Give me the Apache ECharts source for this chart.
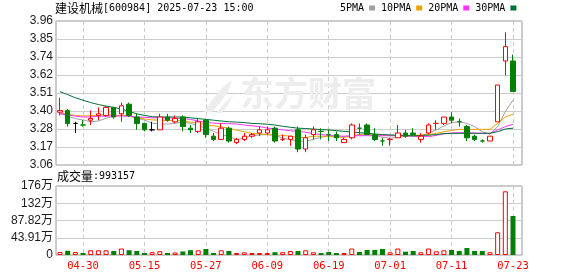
<!DOCTYPE html>
<html><head><meta charset="utf-8">
<script src="https://cdn.jsdelivr.net/npm/echarts@6/dist/echarts.min.js"></script>
<style>html,body{margin:0;padding:0;background:#fff}#c{width:578px;height:276px}</style>
</head><body><div id="c"></div>
<script>
const dates = ['04-25','04-28','04-29','04-30','05-06','05-07','05-08','05-09','05-12','05-13','05-14','05-15','05-16','05-19','05-20','05-21','05-22','05-23','05-26','05-27','05-28','05-29','05-30','06-03','06-04','06-05','06-06','06-09','06-10','06-11','06-12','06-13','06-16','06-17','06-18','06-19','06-20','06-23','06-24','06-25','06-26','06-27','06-30','07-01','07-02','07-03','07-04','07-07','07-08','07-09','07-10','07-11','07-14','07-15','07-16','07-17','07-18','07-21','07-22','07-23'];
const openP  = [3.39,3.40,3.32,3.31,3.34,3.37,3.37,3.42,3.38,3.44,3.36,3.32,3.28,3.28,3.36,3.33,3.36,3.29,3.27,3.34,3.24,3.22,3.29,3.20,3.22,3.24,3.26,3.26,3.29,3.22,3.22,3.28,3.16,3.25,3.27,3.25,3.25,3.20,3.23,3.29,3.31,3.25,3.21,3.22,3.23,3.26,3.26,3.22,3.26,3.32,3.32,3.36,3.33,3.30,3.24,3.21,3.21,3.33,3.71,3.71];
const closeP = [3.40,3.32,3.32,3.31,3.35,3.38,3.42,3.36,3.43,3.37,3.32,3.28,3.28,3.36,3.34,3.35,3.30,3.28,3.33,3.25,3.22,3.29,3.21,3.22,3.24,3.25,3.28,3.28,3.21,3.22,3.24,3.16,3.23,3.28,3.27,3.25,3.23,3.22,3.31,3.29,3.25,3.22,3.21,3.22,3.26,3.24,3.25,3.24,3.31,3.32,3.36,3.34,3.33,3.23,3.22,3.21,3.24,3.56,3.80,3.52];
const lowP   = [3.37,3.30,3.26,3.30,3.31,3.34,3.36,3.35,3.33,3.36,3.28,3.27,3.27,3.28,3.33,3.32,3.27,3.26,3.26,3.23,3.21,3.22,3.20,3.19,3.21,3.23,3.24,3.25,3.20,3.21,3.18,3.14,3.14,3.22,3.22,3.21,3.21,3.20,3.22,3.25,3.25,3.21,3.18,3.18,3.23,3.23,3.24,3.20,3.25,3.28,3.31,3.32,3.30,3.21,3.21,3.20,3.21,3.33,3.62,3.52];
const highP  = [3.48,3.41,3.33,3.34,3.40,3.42,3.43,3.42,3.45,3.45,3.38,3.32,3.33,3.38,3.38,3.37,3.37,3.31,3.35,3.35,3.26,3.32,3.30,3.23,3.26,3.26,3.30,3.30,3.30,3.25,3.24,3.30,3.25,3.30,3.29,3.28,3.27,3.23,3.32,3.32,3.32,3.29,3.23,3.23,3.31,3.28,3.29,3.26,3.32,3.34,3.36,3.39,3.35,3.31,3.25,3.22,3.24,3.56,3.89,3.75];
const volume = [76000,107000,76000,51000,120000,120000,120000,102000,165000,122000,102000,51000,71000,97000,51000,64000,89000,122000,120000,153000,51000,120000,102000,51000,69000,51000,51000,51000,71000,71000,102000,102000,120000,69000,51000,76000,51000,51000,165000,76000,127000,127000,153000,69000,165000,84000,102000,69000,165000,94000,120000,127000,102000,178000,102000,102000,69000,578000,1621000,993157];
const ma5  = [3.383,3.366,3.350,3.341,3.330,3.335,3.352,3.366,3.372,3.370,3.352,3.341,3.322,3.316,3.316,3.320,3.330,3.320,3.305,3.291,3.270,3.250,3.240,3.218,3.229,3.243,3.248,3.250,3.245,3.229,3.218,3.210,3.208,3.220,3.233,3.243,3.243,3.238,3.243,3.250,3.254,3.245,3.233,3.228,3.232,3.240,3.240,3.241,3.258,3.279,3.304,3.325,3.330,3.320,3.300,3.268,3.252,3.300,3.393,3.466];
const ma10 = [3.385,3.378,3.370,3.366,3.368,3.372,3.374,3.372,3.370,3.365,3.355,3.348,3.342,3.340,3.338,3.338,3.336,3.328,3.322,3.312,3.305,3.298,3.290,3.278,3.268,3.258,3.254,3.250,3.248,3.245,3.240,3.232,3.232,3.240,3.240,3.238,3.234,3.233,3.240,3.248,3.250,3.250,3.247,3.245,3.243,3.243,3.245,3.247,3.250,3.258,3.268,3.276,3.283,3.283,3.283,3.283,3.283,3.320,3.360,3.378];
const ma20 = [3.380,3.375,3.365,3.360,3.360,3.365,3.365,3.366,3.366,3.365,3.360,3.358,3.355,3.355,3.355,3.353,3.350,3.345,3.335,3.327,3.322,3.320,3.318,3.316,3.310,3.305,3.300,3.291,3.285,3.280,3.274,3.270,3.265,3.256,3.250,3.245,3.240,3.240,3.242,3.243,3.243,3.243,3.243,3.243,3.243,3.242,3.241,3.238,3.237,3.245,3.255,3.260,3.262,3.262,3.260,3.258,3.258,3.279,3.300,3.314];
const ma30 = [3.518,3.500,3.480,3.465,3.450,3.438,3.428,3.420,3.410,3.395,3.380,3.370,3.362,3.360,3.360,3.360,3.360,3.355,3.350,3.345,3.340,3.335,3.330,3.328,3.325,3.320,3.318,3.315,3.310,3.302,3.296,3.290,3.288,3.285,3.281,3.279,3.275,3.270,3.266,3.262,3.258,3.254,3.250,3.248,3.246,3.245,3.242,3.245,3.246,3.250,3.256,3.258,3.258,3.258,3.258,3.258,3.258,3.268,3.285,3.290];
const priceTickLabels = ['3.06','3.17','3.28','3.40','3.51','3.62','3.74','3.85','3.96'];
const volTickLabels = ['0','43.91万','87.82万','132万','176万'];
const shownDates = ['04-30','05-15','05-27','06-09','06-19','07-01','07-11','07-23'];
const priceMin = 3.06, priceMax = 3.96, volMax = 1756400;
const stockTitle = '建设机械';
const stockCode = '[600984] 2025-07-23 15:00';
const volTitle = '成交量';
const volLast = ':993157';
const maNames = ['5PMA','10PMA','20PMA','30PMA'];

const RED = '#ff0000', GREEN = '#008000', BLACK = '#000000';
function dir(i) {
  if (closeP[i] > openP[i]) return 1;
  if (closeP[i] < openP[i]) return -1;
  const prev = i > 0 ? closeP[i - 1] : closeP[i];
  return closeP[i] > prev ? 1 : (closeP[i] < prev ? -1 : 0);
}
function candleStyle(i) {
  const d = dir(i);
  if (d > 0) return {color:'#fff', color0:'#fff', borderColor:RED, borderColor0:RED};
  if (d < 0) return {color:GREEN, color0:GREEN, borderColor:GREEN, borderColor0:GREEN};
  return {color:BLACK, color0:BLACK, borderColor:BLACK, borderColor0:BLACK};
}
function volStyle(i) {
  const d = dir(i);
  if (d >= 0) return {color:'#fff', borderColor:RED, borderWidth:1};
  return {color:GREEN, borderColor:GREEN, borderWidth:0};
}
const showIdx = (idx) => shownDates.indexOf(dates[idx]) >= 0;

const chart = echarts.init(document.getElementById('c'), null, {renderer:'canvas'});
const mono = "'DejaVu Sans Mono','Liberation Mono',monospace";
const cjk = "'Noto Sans CJK SC',sans-serif";
const maColors = ['#a0a0a0','#f0a000','#ff33ff','#00703a'];
const maData = [ma5, ma10, ma20, ma30];
const richTitle = {a: {fontFamily: cjk, fontSize: 12, color:'#000', fontWeight: 'normal'}, b: {fontFamily: mono, fontSize: 10, color:'#000', fontWeight: 'normal'}};

const option = {
  animation: false,
  backgroundColor: '#fff',
  title: [
    {left: 55, top: 2, padding: 0, text: '{a|' + stockTitle + '}{b|' + stockCode + '}', textStyle: {fontWeight: 'normal', rich: richTitle}},
    {left: 57, top: 170, padding: 0, text: '{a|' + volTitle + '}{b|' + volLast + '}', textStyle: {fontWeight: 'normal', rich: richTitle}}
  ],
  legend: {
    data: maNames, left: 340, top: 3, padding: 0, icon: 'rect', itemWidth: 6, itemHeight: 5, itemGap: 6,
    align: 'right', selectedMode: false,
    textStyle: {fontFamily: mono, fontSize: 10, color: '#000', padding: [0,0,0,0]}
  },
  graphic: [
    {type: 'text', left: 240, top: 76, z: 1, silent: true,
     style: {text: '东方财富', fontFamily: cjk, fontSize: 34, fontWeight: 'bold', fill: '#ededed'}},
    {type: 'polygon', z: 1, silent: true,
     shape: {points: [[204,112],[212,100],[222,88],[232,80],[228,92],[220,103],[212,112]]},
     style: {fill: '#ededed'}},
    {type: 'polygon', z: 1, silent: true,
     shape: {points: [[216,113],[224,104],[234,94],[228,105],[222,113]]},
     style: {fill: '#ededed'}}
  ],
  grid: [
    {left: 56, right: 56, top: 21, height: 144, show: true, borderColor: '#999', borderWidth: 1},
    {left: 60, right: 65, top: 21, height: 144},
    {left: 56, right: 56, top: 186, height: 69, show: true, borderColor: '#999', borderWidth: 1},
    {left: 60, right: 65, top: 186, height: 69}
  ],
  xAxis: [
    {gridIndex: 0, type: 'value', min: 0, max: 1, show: false},
    {gridIndex: 1, type: 'category', data: dates, boundaryGap: false,
     axisLine: {show: false}, axisTick: {show: false}, axisLabel: {show: false},
     splitLine: {show: true, interval: (idx) => showIdx(idx), lineStyle: {color: '#cccccc', type: [4,3]}}},
    {gridIndex: 2, type: 'value', min: 0, max: 1, show: false},
    {gridIndex: 3, type: 'category', data: dates, boundaryGap: false,
     axisLine: {show: false}, axisTick: {show: false},
     axisLabel: {show: true, interval: (idx) => showIdx(idx), color: RED, fontFamily: mono, fontSize: 10.5, margin: 6},
     splitLine: {show: true, interval: (idx) => showIdx(idx), lineStyle: {color: '#cccccc', type: [4,3]}}}
  ],
  yAxis: [
    {gridIndex: 0, type: 'value', min: 0, max: 8, interval: 1,
     axisLine: {show: false}, axisTick: {show: false},
     axisLabel: {formatter: (v) => priceTickLabels[Math.round(v)], color: '#1a1a1a', fontFamily: "'Liberation Sans',Arial,sans-serif", fontSize: 12, margin: 3},
     splitLine: {lineStyle: {color: '#cccccc'}}},
    {gridIndex: 1, type: 'value', min: priceMin, max: priceMax, show: false, splitLine: {show: false}},
    {gridIndex: 2, type: 'value', min: 0, max: 4, interval: 1,
     axisLine: {show: false}, axisTick: {show: false},
     axisLabel: {formatter: (v) => volTickLabels[Math.round(v)], color: '#1a1a1a', fontFamily: "'Liberation Sans','Noto Sans CJK SC',sans-serif", fontSize: 12, margin: 3},
     splitLine: {lineStyle: {color: '#cccccc'}}},
    {gridIndex: 3, type: 'value', min: 0, max: volMax, show: false, splitLine: {show: false}}
  ],
  series: [
    {type: 'candlestick', xAxisIndex: 1, yAxisIndex: 1, barWidth: 5, clip: false, z: 3,
     data: dates.map((d, i) => ({value: [openP[i], closeP[i], lowP[i], highP[i]], itemStyle: Object.assign({borderWidth: 1}, candleStyle(i))}))},
    ...maNames.map((n, k) => ({
      name: n, type: 'line', xAxisIndex: 1, yAxisIndex: 1, data: maData[k], symbol: 'none',
      color: maColors[k], lineStyle: {color: maColors[k], width: 1}, z: 2, clip: false
    })),
    {type: 'bar', xAxisIndex: 3, yAxisIndex: 3, barWidth: 5, z: 3,
     data: volume.map((v, i) => ({value: v, itemStyle: volStyle(i)}))}
  ]
};
chart.setOption(option);
</script></body></html>
